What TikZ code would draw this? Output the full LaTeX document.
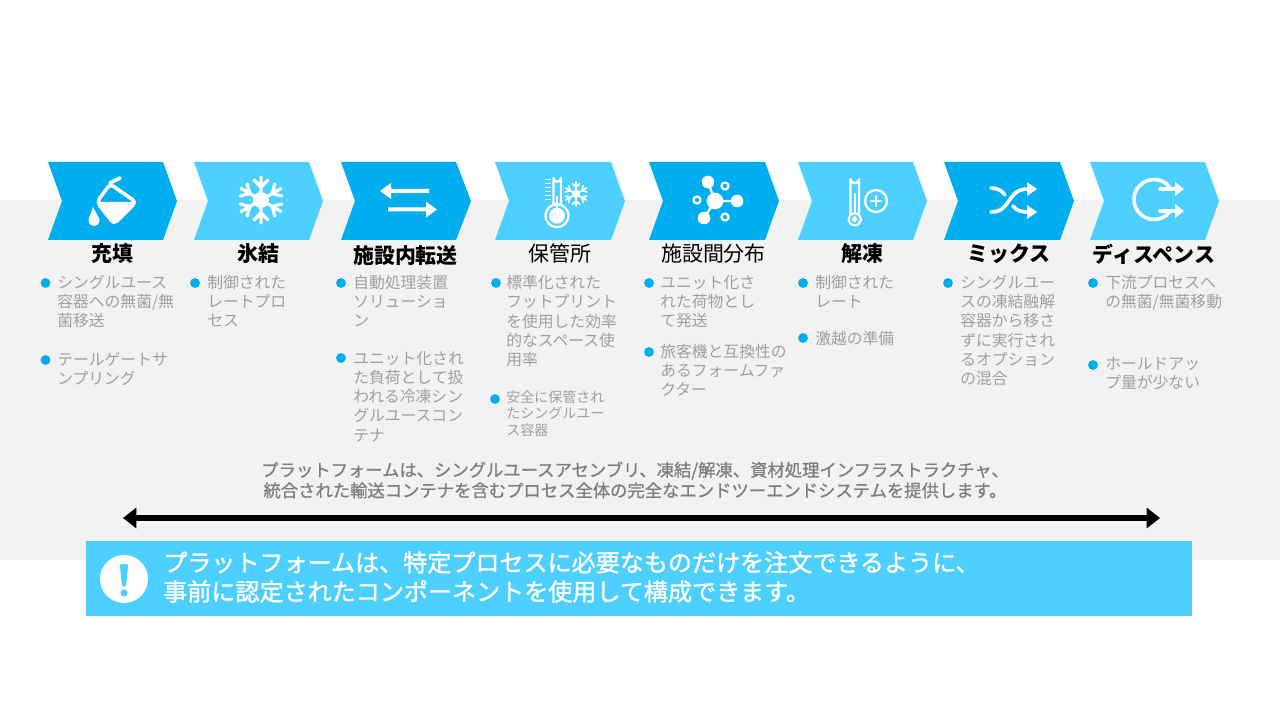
\documentclass[tikz,border=0pt]{standalone}
\usepackage{fontspec}
\setmainfont{Noto Sans CJK JP}
\newfontfamily\mediumfont{Noto Sans CJK JP}[FakeBold=0.9]
\newfontfamily\boxfont{Noto Sans CJK JP}[FakeBold=1.3]
\usetikzlibrary{arrows.meta}
\definecolor{darkblue}{HTML}{00AEEF}
\definecolor{lightblue}{HTML}{4DCFFF}
\definecolor{bandgray}{HTML}{F2F2F2}
\definecolor{bodygray}{HTML}{A0A0A0}
\definecolor{notegray}{HTML}{7F7F7F}
\tikzset{
  chevdark/.style={fill=darkblue},
  chevlight/.style={fill=lightblue},
  headbold/.style={font=\fontsize{15.7}{18}\selectfont\bfseries,text=black,inner sep=0pt},
  headthin/.style={font=\fontsize{15.7}{18}\selectfont,text=black,inner sep=0pt},
  itemtext/.style={anchor=north west,inner sep=0pt,align=left,text=bodygray,font=\fontsize{11.85}{14.4}\selectfont,execute at begin node={\rule{0pt}{12pt}}},
  itemsmall/.style={itemtext,font=\fontsize{10.5}{12.5}\selectfont},
  itemdot/.style={circle,fill=darkblue,inner sep=0pt,minimum size=7.4pt},
  notetext/.style={align=center,text=notegray,inner sep=0pt,font=\fontsize{13}{15.4}\selectfont\mediumfont},
  boxtext/.style={anchor=west,align=left,text=white,inner sep=0pt,font=\fontsize{18.05}{21.8}\selectfont\boxfont},
  iconline/.style={draw=white,line width=2.7pt,line cap=round,line join=round},
  iconthin/.style={draw=white,line width=1.7pt,line cap=round},
  iconfill/.style={fill=white},
  flake/.pic={
    \foreach \a in {30,90,...,330} {
      \draw[white,line cap=round,rotate=\a] (0,0) -- (23,0) (13,0) -- (20,7) (13,0) -- (20,-7);
    }
    \fill[white] (0,0) circle (8);
  }
}
\begin{document}
\begin{tikzpicture}[x=0.75pt,y=-0.75pt]
\useasboundingbox (0,0) rectangle (1280,720);
\fill[white] (0,0) rectangle (1280,720);
\fill[bandgray] (0,200) rectangle (1280,560);

\fill[chevdark] (48,162) -- (163,162) -- (177,201) -- (163,240) -- (48,240) -- (62,201) -- cycle;
\fill[chevlight] (194,162) -- (309,162) -- (323,201) -- (309,240) -- (194,240) -- (208,201) -- cycle;
\fill[chevdark] (341,162) -- (456,162) -- (471,201) -- (456,240) -- (341,240) -- (355,201) -- cycle;
\fill[chevlight] (495,162) -- (611,162) -- (625,201) -- (611,240) -- (495,240) -- (509,201) -- cycle;
\fill[chevdark] (649,162) -- (765,162) -- (779,201) -- (765,240) -- (649,240) -- (663,201) -- cycle;
\fill[chevlight] (798,162) -- (913,162) -- (927,201) -- (913,240) -- (798,240) -- (812,201) -- cycle;
\fill[chevdark] (944,162) -- (1060,162) -- (1074,201) -- (1060,240) -- (944,240) -- (958,201) -- cycle;
\fill[chevlight] (1090,162) -- (1205,162) -- (1219,201) -- (1205,240) -- (1090,240) -- (1104,201) -- cycle;

\draw[iconline] (110,183) -- (120,178);
\draw[iconline,rounded corners=3pt] (110,184) -- (136,202) -- (114,224) -- (97,202) -- cycle;
\fill[iconfill,rounded corners=2pt] (97,202) -- (136,202) -- (114,224) -- cycle;
\fill[iconfill] (93,207) -- (88.7,219) -- (99.3,219) -- cycle;
\fill[iconfill] (94,220.5) circle (5.6);

\pic[line width=2.4pt] at (261,200) {flake};

\fill[iconfill] (380,191) -- (391,183) -- (391,189) -- (429,189) -- (429,193) -- (391,193) -- (391,199) -- cycle;
\fill[iconfill] (437,209.5) -- (426,201.5) -- (426,207.5) -- (388,207.5) -- (388,211.5) -- (426,211.5) -- (426,217.5) -- cycle;

\draw[iconthin,line join=round] (553.5,205) -- (553.5,178) arc[start angle=180,end angle=0,radius=3.75] -- (561,205);
\draw[iconthin] (557,215.7) circle (11.5);
\fill[iconfill] (557,215.7) circle (8);
\draw[iconthin] (557,197) -- (557,210);
\draw[draw=white,line width=1pt] (545,179.5) -- (551,179.5) (545,183.5) -- (551,183.5) (545,187.5) -- (551,187.5) (545,191.5) -- (551,191.5) (545,195.5) -- (551,195.5) (545,199.5) -- (551,199.5);
\pic[scale=0.52,line width=1.2pt] at (576,194) {flake};

\draw[iconthin] (708,182) -- (715,201) -- (737,201) (715,201) -- (704,218);
\fill[iconfill] (715,201) circle (8.3);
\fill[iconfill] (737,201) circle (6.3);
\fill[iconfill] (708,182) circle (6.3);
\fill[iconfill] (704,218) circle (6.3);
\draw[iconthin] (725,186) circle (3.5);
\draw[iconthin] (697,200) circle (3.5);
\draw[iconthin] (725,217) circle (3.5);

\draw[iconthin,line join=round] (850.5,214) -- (850.5,179) arc[start angle=180,end angle=0,radius=4.25] -- (859,214);
\draw[iconthin] (854.7,219.3) circle (6);
\draw[iconthin] (854.7,219.3) circle (1.8);
\draw[iconthin] (854.7,194) -- (854.7,213);
\draw[iconthin] (876,201) circle (11);
\draw[iconthin] (871,201) -- (881,201) (876,196) -- (876,206);

\draw[iconline] (991,212) .. controls (1012,212) and (1006,189) .. (1028,189);
\draw[iconline] (991,188) .. controls (998,188) and (1002,191) .. (1005,195);
\draw[iconline] (1013,206) .. controls (1016,210) and (1020,212) .. (1028,212);
\fill[iconfill] (1037,189) -- (1027,182) -- (1027,196) -- cycle;
\fill[iconfill] (1037,212) -- (1027,205) -- (1027,219) -- cycle;

\draw[iconline] (1154,199.5) ++(40:20) arc[start angle=40,end angle=320,radius=20];
\draw[iconline] (1160,189) -- (1177,189);
\draw[iconline] (1160,211) -- (1177,211);
\fill[iconfill] (1184,189) -- (1175,182) -- (1175,196) -- cycle;
\fill[iconfill] (1184,211) -- (1175,204) -- (1175,218) -- cycle;

\node[headbold] (headfill) at (112.5,254) {充填};
\node[headbold] (headfreeze) at (258,254) {氷結};
\node[headbold] (headtransfer) at (405.5,256) {施設内転送};
\node[headthin] (headstorage) at (560,254) {保管所};
\node[headthin] (headship) at (713.5,254) {施設間分布};
\node[headbold] (headthaw) at (862.5,254) {解凍};
\node[headbold] (headmix) at (1009,254) {ミックス};
\node[headbold] (headdispense) at (1154,254) {ディスペンス};

\node[itemdot] (dotfilla) at (45.5,283) {};
\node[itemtext] (itemfilla) at (57,275) {シングルユース\\容器への無菌/無\\菌移送};
\node[itemdot] (dotfillb) at (45.5,360) {};
\node[itemtext] (itemfillb) at (57,352) {テールゲートサ\\ンプリング};
\node[itemdot] (dotfreeze) at (195,283) {};
\node[itemtext] (itemfreeze) at (207,275) {制御された\\レートプロ\\セス};
\node[itemdot] (dottransfera) at (341,283) {};
\node[itemtext] (itemtransfera) at (353,275) {自動処理装置\\ソリューショ\\ン};
\node[itemdot] (dottransferb) at (341,358) {};
\node[itemtext] (itemtransferb) at (353,351) {ユニット化され\\た負荷として扱\\われる冷凍シン\\グルユースコン\\テナ};
\node[itemdot] (dotstoragea) at (496,283) {};
\node[itemtext] (itemstoragea) at (506,275) {標準化された\\フットプリント\\を使用した効率\\的なスペース使\\用率};
\node[itemdot] (dotstorageb) at (495,399) {};
\node[itemsmall] (itemstorageb) at (506,390) {安全に保管され\\たシングルユー\\ス容器};
\node[itemdot] (dotshipa) at (649,283) {};
\node[itemtext] (itemshipa) at (660,275) {ユニット化さ\\れた荷物とし\\て発送};
\node[itemdot] (dotshipb) at (649,352) {};
\node[itemtext] (itemshipb) at (660,344) {旅客機と互換性の\\あるフォームファ\\クター};
\node[itemdot] (dotthawa) at (803,283) {};
\node[itemtext] (itemthawa) at (815,275) {制御された\\レート};
\node[itemdot] (dotthawb) at (803,338) {};
\node[itemtext] (itemthawb) at (815,328) {激越の準備};
\node[itemdot] (dotmix) at (948,283) {};
\node[itemtext] (itemmix) at (960,275) {シングルユー\\スの凍結融解\\容器から移さ\\ずに実行され\\るオプション\\の混合};
\node[itemdot] (dotdispensea) at (1093,283) {};
\node[itemtext] (itemdispensea) at (1105,275) {下流プロセスへ\\の無菌/無菌移動};
\node[itemdot] (dotdispenseb) at (1093,365) {};
\node[itemtext] (itemdispenseb) at (1105,357) {ホールドアッ\\プ量が少ない};

\node[notetext] (platformnote) at (635,480) {プラットフォームは、シングルユースアセンブリ、凍結/解凍、資材処理インフラストラクチャ、\\統合された輸送コンテナを含むプロセス全体の完全なエンドツーエンドシステムを提供します。};

\coordinate (spanleft) at (123,518);
\coordinate (spanright) at (1160,518);
\draw[line width=4.5pt,{Triangle[length=10pt,width=15pt]}-{Triangle[length=10pt,width=15pt]}] (spanleft) -- (spanright);

\fill[lightblue] (86,541) rectangle (1192,616);
\fill[white] (124,579) circle (24);
\fill[lightblue,rounded corners=1.5pt] (119.8,564) -- (128.2,564) -- (126,587) -- (122,587) -- cycle;
\fill[lightblue] (124,593) circle (3.6);
\node[boxtext] (boxnote) at (163,577) {プラットフォームは、特定プロセスに必要なものだけを注文できるように、\\事前に認定されたコンポーネントを使用して構成できます。};
\end{tikzpicture}
\end{document}
